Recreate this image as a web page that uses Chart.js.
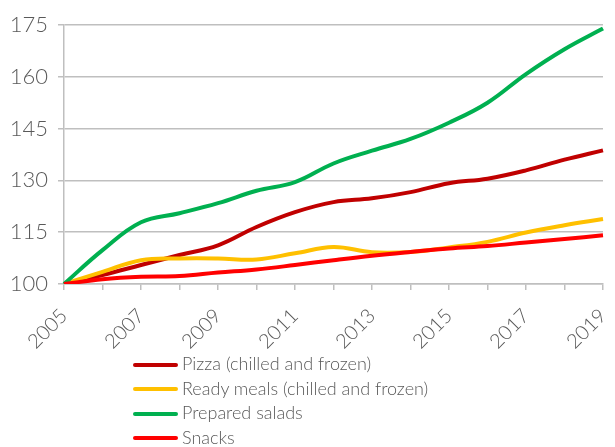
<!DOCTYPE html>
<html>
<head>
<meta charset="utf-8">
<script src="https://cdn.jsdelivr.net/npm/chart.js@4.4.0/dist/chart.umd.min.js"></script>
<style>
  html, body { margin: 0; padding: 0; background: #fff; }
  #wrap { position: relative; width: 615px; height: 447px; }
  #legend { position: absolute; left: 133px; top: 351px; font-family: "Lato", sans-serif; font-weight: 300;
            font-size: 18px; color: #595959; }
  #legend div { height: 24.6px; line-height: 24.6px; white-space: nowrap; }
  #legend span.sw { display: inline-block; width: 45px; height: 4px; border-radius: 2px; vertical-align: middle;
                    margin-right: 4px; position: relative; top: -1px; }
</style>
</head>
<body>
<div id="wrap">
  <canvas id="chart" width="615" height="447"></canvas>
  <div id="legend"></div>
</div>
<script>
const years = ["2005", "2006", "2007", "2008", "2009", "2010", "2011", "2012",
               "2013", "2014", "2015", "2016", "2017", "2018", "2019"];

const pizza = [100, 102.6, 105.5, 108.4, 111.2, 116.5, 120.8, 123.7, 124.8, 126.6, 129.2, 130.5, 132.9, 136.0, 138.7];
const readyMeals = [100, 103.5, 106.9, 107.4, 107.4, 107.1, 108.9, 110.7, 109.2, 109.3, 110.6, 112.2, 114.9, 117.0, 118.8];
const salads = [100, 109.8, 117.9, 120.5, 123.4, 127.0, 129.5, 134.9, 138.6, 142.0, 146.7, 152.5, 160.8, 168.0, 174.0];
const snacks = [100, 101.4, 102.1, 102.3, 103.3, 104.2, 105.5, 106.9, 108.2, 109.3, 110.3, 111.0, 112.0, 113.0, 114.1];

const yTicks = [100, 115, 130, 145, 160, 175];

const series = [
    { label: "Pizza (chilled and frozen)", data: pizza, color: "#C00000" },
    { label: "Ready meals (chilled and frozen)", data: readyMeals, color: "#FFC000" },
    { label: "Prepared salads", data: salads, color: "#00B050" },
    { label: "Snacks", data: snacks, color: "#FF0000" },
];

const textColor = "#595959";
const gridColor = "#BFBFBF";
const fontFamily = "Lato, sans-serif";

const chart = new Chart(document.getElementById("chart"), {
    type: "line",
    data: {
        labels: years,
        datasets: series.map((s, i) => ({
            label: s.label,
            data: s.data,
            borderColor: s.color,
            backgroundColor: s.color,
            borderWidth: 4,
            pointRadius: 0,
            tension: 0.4,
            order: series.length - i,  // later series drawn on top, like the original
        })),
    },
    options: {
        responsive: false,
        animation: false,
        layout: { padding: { left: 12, right: 12, top: 25, bottom: 97 } },
        scales: {
            x: {
                grid: { drawOnChartArea: false, drawTicks: true, tickLength: 6, color: gridColor, lineWidth: 1.5 },
                border: { color: gridColor, width: 1.5 },
                ticks: {
                    autoSkip: false,
                    maxRotation: 45,
                    minRotation: 45,
                    padding: 14,
                    color: textColor,
                    font: { family: fontFamily, size: 20, weight: 300 },
                    callback: function(value, index) {
                        return index % 2 === 0 ? this.getLabelForValue(value) : "";
                    },
                },
                // fixed axis size so the plot area stays where the original has it
                afterFit: (scale) => {
                    scale.paddingLeft = 0;
                    scale.paddingRight = 0;
                    scale.height = 66;
                },
            },
            y: {
                min: 100,
                max: 175,
                afterBuildTicks: (axis) => { axis.ticks = yTicks.map(v => ({ value: v })); },
                afterFit: (scale) => { scale.width = 52; },
                grid: { color: gridColor, lineWidth: 1.5, tickLength: 6 },
                border: { color: gridColor, width: 1.5 },
                ticks: {
                    padding: 10,
                    color: textColor,
                    font: { family: fontFamily, size: 22, weight: 300 },
                },
            },
        },
        plugins: {
            legend: { display: false },
            tooltip: { enabled: false },
        },
    },
});

// Legend: one row per series, left aligned
const legendEl = document.getElementById("legend");
chart.data.datasets.forEach((ds) => {
    const row = document.createElement("div");
    const sw = document.createElement("span");
    sw.className = "sw";
    sw.style.background = ds.borderColor;
    row.appendChild(sw);
    row.appendChild(document.createTextNode(ds.label));
    legendEl.appendChild(row);
});
</script>
</body>
</html>
